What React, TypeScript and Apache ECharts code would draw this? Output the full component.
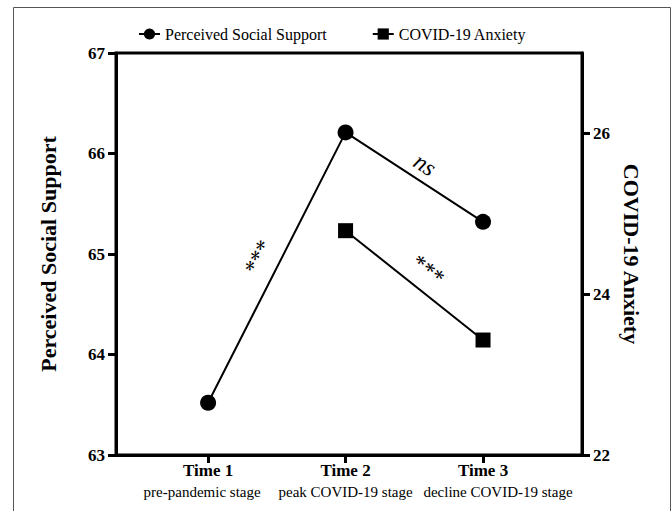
import React, { useEffect, useRef } from "react";
import * as echarts from "echarts";

const timePoints = [1, 2, 3];
const timeLabels = ["Time 1", "Time 2", "Time 3"];
const stageLabels = ["pre-pandemic stage", "peak COVID-19 stage", "decline COVID-19 stage"];
const supportValues = [63.52, 66.21, 65.32];
const anxietyValues: (number | null)[] = [null, 24.79, 23.43];
const leftTicks = [63, 64, 65, 66, 67];
const rightTicks = [22, 24, 26];
const seriesNames = ["Perceived Social Support", "COVID-19 Anxiety"];
const axisNames = ["Perceived Social Support", "COVID-19 Anxiety"];
const annotations = [
  { text: "***", x: 1.364, y: 64.97, axis: 0, rotate: 63, italic: false },
  { text: "ns", x: 2.578, y: 65.89, axis: 0, rotate: -33, italic: true },
  { text: "***", x: 2.6, y: 24.3, axis: 1, rotate: -38, italic: false },
];

const FONT = "Liberation Serif";

export default function App() {
  const ref = useRef<HTMLDivElement>(null);
  useEffect(() => {
    if (!ref.current) return;
    const chart = echarts.init(ref.current, undefined, { renderer: "svg" });
    const frame = {
      id: "frame",
      type: "rect",
      shape: { x: 13.5, y: 7.5, width: 657, height: 520 },
      style: { fill: "none", stroke: "#555", lineWidth: 1 },
      silent: true,
    };
    const subStyle = { fontFamily: FONT, fontSize: 15, color: "#000" };
    chart.setOption({
      animation: false,
      backgroundColor: "#fff",
      textStyle: { fontFamily: FONT, color: "#000" },
      graphic: [frame],
      legend: {
        data: seriesNames,
        left: 133,
        top: 21,
        itemWidth: 21,
        itemHeight: 14,
        itemGap: 45,
        textStyle: { fontFamily: FONT, fontSize: 16, color: "#000" },
      },
      grid: {
        left: 116,
        right: 90,
        top: 53,
        bottom: 56,
        show: true,
        borderColor: "#000",
        borderWidth: 3,
        backgroundColor: "transparent",
      },
      xAxis: [
        {
          type: "value",
          min: 0.33,
          max: 3.72,
          position: "bottom",
          splitLine: { show: false },
          axisLine: { show: true, lineStyle: { color: "#000", width: 3 } },
          axisTick: {
            show: true,
            length: 8,
            lineStyle: { color: "#000", width: 3 },
            customValues: timePoints,
          },
          axisLabel: {
            customValues: timePoints,
            hideOverlap: false,
            margin: 7,
            fontFamily: FONT,
            fontSize: 17,
            fontWeight: "bold",
            color: "#000",
            formatter: (v: number) => {
              const i = timePoints.indexOf(Math.round(v));
              return i < 0 ? "" : timeLabels[i];
            },
          },
        },
        {
          type: "value",
          min: 0.33,
          max: 3.72,
          position: "bottom",
          splitLine: { show: false },
          axisLine: { show: false },
          axisTick: { show: false },
          axisLabel: {
            customValues: timePoints,
            hideOverlap: false,
            margin: 29,
            formatter: (v: number) => {
              const i = timePoints.indexOf(Math.round(v));
              return i < 0 ? "" : `{s${i}|${stageLabels[i]}}`;
            },
            rich: {
              s0: { ...subStyle, padding: [0, 12, 0, 0] },
              s1: { ...subStyle },
              s2: { ...subStyle, padding: [0, 0, 0, 30] },
            },
          },
        },
      ],
      yAxis: [
        {
          type: "value",
          min: leftTicks[0],
          max: leftTicks[leftTicks.length - 1],
          interval: 1,
          position: "left",
          name: axisNames[0],
          nameLocation: "middle",
          nameGap: 57,
          nameTextStyle: { fontFamily: FONT, fontSize: 22, fontWeight: "bold", color: "#000" },
          splitLine: { show: false },
          axisLine: { show: true, lineStyle: { color: "#000", width: 3 } },
          axisTick: { show: true, length: 8, lineStyle: { color: "#000", width: 3 } },
          axisLabel: { fontFamily: FONT, fontSize: 17, fontWeight: "bold", color: "#000", margin: 11 },
        },
        {
          type: "value",
          min: 22,
          max: 27,
          position: "right",
          name: axisNames[1],
          nameLocation: "middle",
          nameGap: 35,
          nameRotate: -90,
          nameTextStyle: { fontFamily: FONT, fontSize: 22, fontWeight: "bold", color: "#000" },
          splitLine: { show: false },
          axisLine: { show: true, lineStyle: { color: "#000", width: 3 } },
          axisTick: {
            show: true,
            length: 8,
            lineStyle: { color: "#000", width: 3 },
            customValues: rightTicks,
          },
          axisLabel: {
            customValues: rightTicks,
            fontFamily: FONT,
            fontSize: 17,
            fontWeight: "bold",
            color: "#000",
            margin: 11,
          },
        },
      ],
      series: [
        {
          name: seriesNames[0],
          type: "line",
          yAxisIndex: 0,
          symbol: "circle",
          symbolSize: 16,
          lineStyle: { color: "#000", width: 2 },
          itemStyle: { color: "#000", borderWidth: 0 },
          data: supportValues.map((v, i) => [timePoints[i], v]),
        },
        {
          name: seriesNames[1],
          type: "line",
          yAxisIndex: 1,
          symbol: "rect",
          symbolSize: 15,
          lineStyle: { color: "#000", width: 2 },
          itemStyle: { color: "#000", borderWidth: 0 },
          data: anxietyValues.map((v, i) => [timePoints[i], v]),
        },
      ],
    });
    const annGraphics = annotations.map((a, k) => {
      const p = chart.convertToPixel({ xAxisIndex: 0, yAxisIndex: a.axis }, [a.x, a.y]) as number[];
      return {
        id: "ann" + k,
        type: "text",
        x: p[0],
        y: p[1],
        rotation: (a.rotate * Math.PI) / 180,
        silent: true,
        style: {
          text: a.text,
          fill: "#000",
          fontFamily: FONT,
          fontSize: a.italic ? 24 : 23,
          fontStyle: a.italic ? "italic" : "normal",
          align: "center",
          verticalAlign: "middle",
        },
      };
    });
    chart.setOption({ graphic: [frame, ...annGraphics] });
    return () => chart.dispose();
  }, []);
  return (
    <div
      ref={ref}
      style={{ position: "fixed", left: 0, top: 0, width: 672, height: 511 }}
    />
  );
}
